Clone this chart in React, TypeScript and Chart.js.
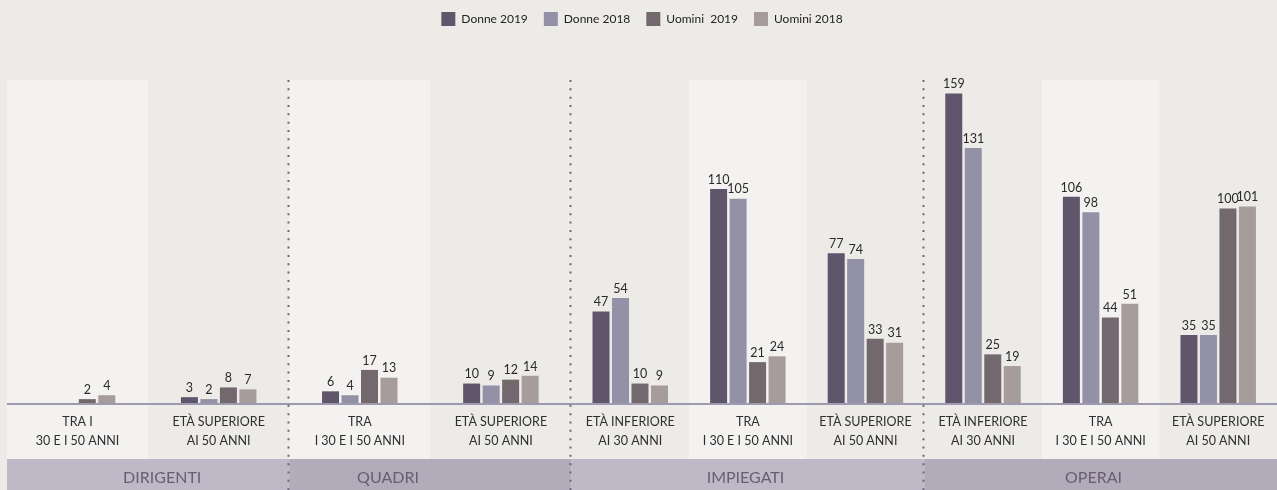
import React, { useEffect, useRef } from "react";
import { Chart, registerables } from "chart.js";

Chart.register(...registerables);

// ---------- data ----------
const CATEGORY_LINE1 = [
  "TRA I",
  "ETÀ SUPERIORE",
  "TRA",
  "ETÀ SUPERIORE",
  "ETÀ INFERIORE",
  "TRA",
  "ETÀ SUPERIORE",
  "ETÀ INFERIORE",
  "TRA",
  "ETÀ SUPERIORE",
];
const CATEGORY_LINE2 = [
  "30 E I 50 ANNI",
  "AI 50 ANNI",
  "I 30 E I 50 ANNI",
  "AI 50 ANNI",
  "AI 30 ANNI",
  "I 30 E I 50 ANNI",
  "AI 50 ANNI",
  "AI 30 ANNI",
  "I 30 E I 50 ANNI",
  "AI 50 ANNI",
];
const GROUP_NAMES = ["DIRIGENTI", "QUADRI", "IMPIEGATI", "OPERAI"];
const GROUP_SIZES = [2, 2, 3, 3];
const SERIES_NAMES = ["Donne 2019", "Donne 2018", "Uomini  2019", "Uomini 2018"];
const DONNE_2019 = [null, 3, 6, 10, 47, 110, 77, 159, 106, 35];
const DONNE_2018 = [null, 2, 4, 9, 54, 105, 74, 131, 98, 35];
const UOMINI_2019 = [2, 8, 17, 12, 10, 21, 33, 25, 44, 100];
const UOMINI_2018 = [4, 7, 13, 14, 9, 24, 31, 19, 51, 101];

// ---------- layout / style ----------
const CATEGORY_WEIGHTS = [6, 6, 6, 6, 5, 5, 5, 5, 5, 5];
const GROUP_LABEL_ANCHORS = [6.6, 16.2, 31.4, 46.2];
const LIGHT_PANEL = [true, false, true, false, false, true, false, false, true, false];
const SERIES_COLORS = ["#5F566B", "#9291A5", "#73686E", "#A69C9C"];
const BAND_COLORS = ["#BDB9C6", "#B0ACBA", "#BDB9C6", "#B0ACBA"];
const BG = "#ECEBE7";
const PANEL = "#F3F2F0";
const FONT = "Lato, 'Open Sans', sans-serif";

const STARTS: number[] = [];
{
  let acc = 0;
  for (const w of CATEGORY_WEIGHTS) {
    STARTS.push(acc);
    acc += w;
  }
}
const TOTAL = CATEGORY_WEIGHTS.reduce((a, b) => a + b, 0);
const CENTERS = STARTS.map((s, i) => s + CATEGORY_WEIGHTS[i] / 2);
const GROUP_BOUNDS: number[][] = [];
{
  let ci = 0;
  for (const n of GROUP_SIZES) {
    const s = STARTS[ci];
    const last = ci + n - 1;
    GROUP_BOUNDS.push([s, STARTS[last] + CATEGORY_WEIGHTS[last]]);
    ci += n;
  }
}

const legendMargin = {
  id: "legendMargin",
  beforeInit(chart: any) {
    const orig = chart.legend.fit;
    chart.legend.fit = function fit() {
      orig.bind(chart.legend)();
      this.height += 44;
    };
  },
};

const decor = {
  id: "decor",
  beforeDraw(chart: any) {
    const { ctx, chartArea, scales } = chart;
    const x = scales.x;
    const W = chart.width;
    const H = chart.height;
    ctx.save();
    ctx.fillStyle = BG;
    ctx.fillRect(0, 0, W, H);
    const bandTop = chartArea.bottom + 56;
    CATEGORY_WEIGHTS.forEach((w, i) => {
      if (!LIGHT_PANEL[i]) return;
      const l = x.getPixelForValue(STARTS[i]);
      const r = x.getPixelForValue(STARTS[i] + w);
      ctx.fillStyle = PANEL;
      ctx.fillRect(l, chartArea.top, r - l, bandTop - chartArea.top);
    });
    GROUP_BOUNDS.forEach(([s, e], gi) => {
      const l = x.getPixelForValue(s);
      const r = x.getPixelForValue(e);
      ctx.fillStyle = BAND_COLORS[gi];
      ctx.fillRect(l, bandTop, r - l, H - bandTop);
    });
    ctx.restore();
  },
  beforeDatasetsDraw(chart: any) {
    const { ctx, chartArea, scales } = chart;
    const y0 = scales.y.getPixelForValue(0);
    ctx.save();
    ctx.strokeStyle = "#9D99AF";
    ctx.lineWidth = 2;
    ctx.beginPath();
    ctx.moveTo(chartArea.left, y0 + 1);
    ctx.lineTo(chartArea.right, y0 + 1);
    ctx.stroke();
    ctx.restore();
  },
  afterDatasetsDraw(chart: any) {
    const { ctx } = chart;
    ctx.save();
    ctx.font = `12.5px ${FONT}`;
    ctx.fillStyle = "#2A2A2A";
    ctx.textAlign = "center";
    ctx.textBaseline = "bottom";
    chart.data.datasets.forEach((ds: any, di: number) => {
      const meta = chart.getDatasetMeta(di);
      meta.data.forEach((el: any, i: number) => {
        const v = ds.data[i].y;
        if (v === null || v === undefined) return;
        ctx.fillText(String(v), el.x, el.y - 3);
      });
    });
    ctx.restore();
  },
  afterDraw(chart: any) {
    const { ctx, chartArea, scales } = chart;
    const x = scales.x;
    const H = chart.height;
    ctx.save();
    // category labels
    ctx.font = `12.5px ${FONT}`;
    ctx.fillStyle = "#2F2F2F";
    ctx.textAlign = "center";
    ctx.textBaseline = "middle";
    CENTERS.forEach((c, i) => {
      const px = x.getPixelForValue(c);
      ctx.fillText(CATEGORY_LINE1[i], px, chartArea.bottom + 19);
      ctx.fillText(CATEGORY_LINE2[i], px, chartArea.bottom + 38);
    });
    // group labels
    ctx.font = `16px ${FONT}`;
    ctx.fillStyle = "#6A5D72";
    GROUP_LABEL_ANCHORS.forEach((a, gi) => {
      const px = x.getPixelForValue(a);
      ctx.fillText(GROUP_NAMES[gi], px, H - 12);
    });
    // dotted separators
    ctx.strokeStyle = "#6F6479";
    ctx.lineWidth = 2;
    ctx.setLineDash([2, 6.33]);
    GROUP_BOUNDS.slice(0, -1).forEach(([, e]) => {
      const px = Math.round(x.getPixelForValue(e)) - 0.5;
      ctx.beginPath();
      ctx.moveTo(px, chartArea.top);
      ctx.lineTo(px, H);
      ctx.stroke();
    });
    ctx.restore();
  },
};

export default function App() {
  const ref = useRef<HTMLCanvasElement | null>(null);
  useEffect(() => {
    if (!ref.current) return;
    const series = [DONNE_2019, DONNE_2018, UOMINI_2019, UOMINI_2018];
    const chart = new Chart(ref.current, {
      type: "bar",
      data: {
        datasets: series.map((vals, si) => ({
          label: SERIES_NAMES[si],
          data: vals.map((v, i) => ({ x: CENTERS[i], y: v })),
          backgroundColor: SERIES_COLORS[si],
          borderWidth: 0,
          categoryPercentage: 0.663,
          barPercentage: 0.872,
        })),
      },
      options: {
        responsive: false,
        animation: false,
        devicePixelRatio: 1,
        layout: { padding: { left: 7, right: 0, top: -4, bottom: 87 } },
        scales: {
          x: {
            type: "linear",
            min: 0,
            max: TOTAL,
            offset: false,
            display: false,
            grid: { display: false, offset: false },
            afterBuildTicks: (s: any) => {
              s.ticks = CENTERS.map((v) => ({ value: v }));
            },
          },
          y: {
            min: 0,
            max: 166,
            display: false,
            grid: { display: false },
          },
        },
        plugins: {
          legend: {
            display: true,
            position: "top",
            align: "center",
            labels: {
              boxWidth: 14,
              boxHeight: 14,
              padding: 16,
              color: "#222222",
              font: { family: FONT, size: 12 },
            },
          },
          tooltip: { enabled: false },
        },
      },
      plugins: [legendMargin, decor],
    } as any);
    return () => chart.destroy();
  }, []);
  return (
    <div style={{ position: "fixed", left: 0, top: 0, width: 1277, height: 490, background: BG }}>
      <canvas ref={ref} width={1277} height={490} style={{ display: "block" }} />
    </div>
  );
}
